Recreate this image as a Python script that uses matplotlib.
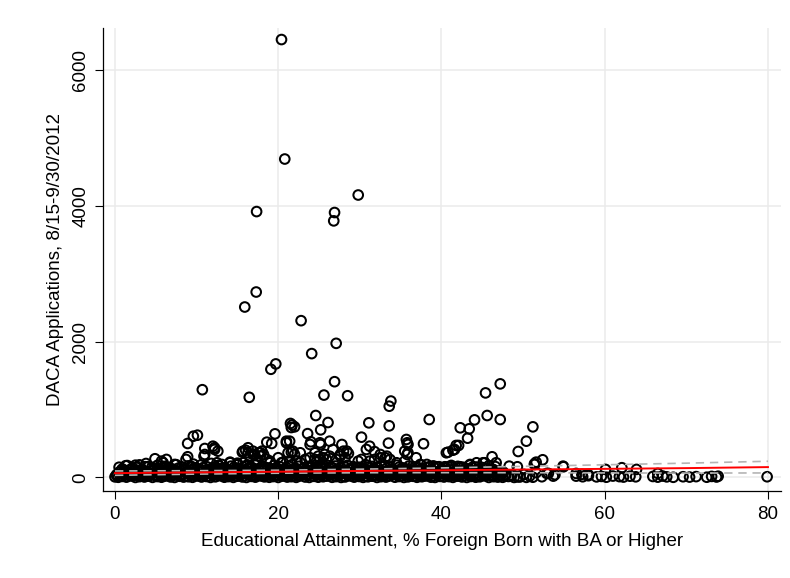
import numpy as np
import matplotlib
matplotlib.use('Agg')
import matplotlib.pyplot as plt

plt.rcParams['font.family'] = ['Liberation Sans', 'DejaVu Sans']

# Counties with large numbers of applications (x = % foreign born with BA+, y = applications)
outlier_pts = [
    (20.4, 6450), (20.8, 4690), (29.8, 4160), (17.35, 3916), (26.9, 3902),
    (26.8, 3779), (17.3, 2731), (15.9, 2510), (22.8, 2309), (27.1, 1975),
    (24.1, 1824), (19.7, 1672), (19.1, 1593), (26.9, 1410), (10.7, 1292),
    (16.45, 1180), (25.6, 1213), (28.5, 1203), (33.8, 1125), (33.6, 1049),
    (47.2, 1378), (45.4, 1245), (45.6, 912), (47.2, 853), (44.05, 848),
]

# Mid-range counties (roughly 300 - 1000 applications)
mid_pts = [
    (42.3, 731), (43.4, 716), (43.2, 578), (42.1, 471), (41.6, 412),
    (40.8, 372), (51.2, 745), (50.4, 534), (49.4, 382), (38.5, 853),
    (24.6, 912), (26.1, 809), (25.2, 701), (23.6, 645), (24.0, 525),
    (26.3, 534), (25.2, 485), (27.8, 485), (28.0, 387), (31.1, 804),
    (30.2, 593), (31.2, 460), (31.8, 380), (33.6, 760), (33.5, 505),
    (21.7, 772), (21.5, 795), (22.0, 745), (21.6, 735), (21.8, 387),
    (22.0, 338), (21.4, 534), (19.6, 642), (18.6, 519), (19.2, 500),
    (21.0, 534), (21.6, 372), (8.9, 500), (9.6, 607), (10.1, 622),
    (11.0, 426), (12.2, 437), (12.6, 387), (12.0, 460), (15.6, 372),
    (16.3, 437), (16.0, 401), (16.9, 387), (18.2, 338), (17.1, 338),
    (17.8, 363), (35.7, 559), (35.9, 485), (35.9, 363), (35.8, 510),
    (35.5, 387), (35.8, 338), (37.8, 496), (40.6, 363), (41.4, 401),
    (41.8, 471), (26.7, 412), (27.6, 338), (28.4, 387), (30.8, 412),
    (32.5, 338), (33.3, 313), (11.0, 338), (12.2, 412), (15.7, 387),
    (16.3, 363), (16.9, 338), (17.6, 363), (18.0, 387), (16.5, 313),
    (21.0, 510), (21.2, 363), (22.7, 363), (23.9, 485), (24.5, 363),
    (25.1, 510), (25.7, 338), (24.9, 313),
]

# Low counties (roughly 150 - 320 applications)
low_pts = [
    (4.9, 275), (5.7, 240), (6.3, 265), (5.9, 216), (7.3, 191), (8.7, 265),
    (8.9, 304), (11.8, 206), (13.1, 191), (14.1, 225), (17.4, 265), (18.6, 265),
    (20.0, 290), (19.0, 240), (20.4, 216), (10.9, 313), (17.8, 313), (21.4, 240),
    (22.3, 240), (23.3, 265), (23.9, 290), (24.5, 265), (25.1, 265), (25.5, 290),
    (26.3, 313), (27.1, 265), (27.6, 313), (28.2, 290), (28.6, 353), (29.8, 240),
    (30.2, 265), (31.2, 240), (31.8, 265), (32.5, 290), (33.1, 290), (33.7, 265),
    (34.5, 216), (35.5, 240), (37.4, 191), (38.2, 191), (39.4, 157), (40.4, 157),
    (41.2, 157), (42.3, 157), (43.5, 191), (44.3, 216), (45.1, 216), (36.9, 290),
    (46.2, 304), (45.3, 216), (46.7, 216), (48.3, 166), (49.3, 157), (51.4, 201),
    (51.6, 225), (52.4, 260), (54.9, 166), (2.5, 180), (3.8, 205), (1.5, 175),
    (12.7, 178), (15.0, 210), (16.2, 185), (9.6, 196), (12.5, 216), (14.1, 216),
    (15.7, 216), (17.4, 216), (19.0, 216), (20.6, 225), (22.7, 216), (24.7, 240),
    (25.9, 265),
]

# Dense band of counties with few applications
band_1 = [
    (0.0, 8), (0.4, 2), (0.9, 15), (1.4, 4), (1.9, 22), (2.5, 0), (3.0, 11), (3.6, 6), (4.1, 19), (4.6, 1),
    (5.2, 13), (5.7, 3), (6.3, 25), (6.8, 7), (7.3, 0), (7.9, 17), (8.4, 5), (9.0, 10), (9.5, 2), (10.1, 21),
    (10.6, 6), (11.2, 14), (11.7, 0), (12.3, 9), (12.8, 26), (13.4, 3), (13.9, 12), (14.5, 1), (15.0, 18), (15.6, 7),
    (16.1, 0), (16.7, 15), (17.2, 4), (17.8, 23), (18.3, 8), (18.9, 2), (19.4, 13), (20.0, 0), (20.5, 19), (21.1, 5),
    (21.6, 11), (22.2, 1), (22.7, 24), (23.3, 6), (23.8, 0), (24.4, 16), (24.9, 3), (25.5, 10), (26.0, 20), (26.6, 2),
    (27.1, 12), (27.7, 0), (28.2, 7), (28.8, 22), (29.3, 4), (29.9, 14), (30.4, 1), (31.0, 9), (31.5, 18), (32.1, 0),
    (32.6, 11), (33.2, 5), (33.7, 25), (34.3, 3), (34.8, 13), (35.4, 0), (35.9, 8), (36.5, 17), (37.0, 2), (37.6, 10),
    (38.1, 21), (38.7, 4), (39.2, 0), (39.8, 15), (40.3, 6), (40.9, 12), (41.4, 1), (42.0, 19), (42.5, 7), (43.1, 0),
    (43.6, 14), (44.2, 3), (44.7, 9), (45.3, 23), (45.8, 0), (46.4, 11), (46.9, 5), (47.5, 2), (48.2, 14), (48.9, 0),
    (49.6, 6), (50.4, 1), (51.2, 3),
]
band_2 = [
    (0.2, 42), (0.7, 55), (1.2, 38), (1.7, 61), (2.2, 47), (2.8, 36), (3.3, 58), (3.9, 44), (4.4, 52), (4.9, 39),
    (5.5, 63), (6.0, 41), (6.6, 50), (7.1, 37), (7.7, 57), (8.2, 45), (8.8, 60), (9.3, 40), (9.9, 53), (10.4, 36),
    (11.0, 48), (11.5, 62), (12.1, 43), (12.6, 55), (13.2, 38), (13.7, 59), (14.3, 46), (14.8, 51), (15.4, 40), (15.9, 64),
    (16.5, 44), (17.0, 37), (17.6, 56), (18.1, 49), (18.7, 41), (19.2, 61), (19.8, 39), (20.3, 54), (20.9, 46), (21.4, 36),
    (22.0, 58), (22.5, 43), (23.1, 52), (23.6, 40), (24.2, 63), (24.7, 47), (25.3, 38), (25.8, 57), (26.4, 45), (26.9, 50),
    (27.5, 37), (28.0, 60), (28.6, 42), (29.1, 55), (29.7, 39), (30.2, 48), (30.8, 62), (31.3, 44), (31.9, 36), (32.4, 53),
    (33.0, 41), (33.5, 59), (34.1, 46), (34.6, 38), (35.2, 56), (35.7, 43), (36.3, 50), (36.8, 61), (37.4, 40), (37.9, 47),
    (38.5, 37), (39.0, 54), (39.6, 44), (40.1, 58), (40.7, 39), (41.2, 51), (41.8, 45), (42.3, 36), (42.9, 60), (43.4, 42),
    (44.0, 49), (44.5, 38), (45.1, 55), (45.6, 43), (46.2, 40), (46.7, 52), (47.3, 37), (47.9, 45),
]
band_3 = [
    (0.5, 78), (1.1, 92), (1.7, 72), (2.4, 101), (3.0, 84), (3.6, 75), (4.3, 96), (4.9, 81), (5.5, 70), (6.2, 99),
    (6.8, 87), (7.4, 74), (8.1, 93), (8.7, 80), (9.3, 103), (10.0, 71), (10.6, 89), (11.2, 77), (11.9, 98), (12.5, 83),
    (13.1, 73), (13.8, 95), (14.4, 86), (15.0, 70), (15.7, 100), (16.3, 79), (16.9, 91), (17.6, 76), (18.2, 104), (18.8, 82),
    (19.5, 72), (20.1, 94), (20.7, 85), (21.4, 78), (22.0, 102), (22.6, 71), (23.3, 88), (23.9, 97), (24.5, 75), (25.2, 83),
    (25.8, 92), (26.4, 70), (27.1, 99), (27.7, 80), (28.3, 87), (29.0, 74), (29.6, 96), (30.2, 81), (30.9, 73), (31.5, 101),
    (32.1, 85), (32.8, 77), (33.4, 94), (34.0, 70), (34.7, 90), (35.3, 79), (35.9, 103), (36.6, 84), (37.2, 72), (37.8, 97),
    (38.5, 76), (39.1, 89), (39.7, 71), (40.4, 99), (41.0, 82), (41.6, 74), (42.3, 93), (42.9, 78), (43.5, 86), (44.2, 70),
    (44.8, 95), (45.4, 80), (46.1, 73), (46.8, 88), (47.6, 76),
]
band_4 = [
    (0.9, 125), (1.8, 112), (2.6, 148), (3.3, 118), (4.1, 160), (4.8, 131), (5.6, 114), (6.3, 152), (7.1, 122), (7.8, 139),
    (8.6, 110), (9.3, 165), (10.1, 127), (10.8, 144), (11.6, 116), (12.3, 158), (13.1, 133), (13.8, 111), (14.6, 149), (15.3, 124),
    (16.1, 167), (16.8, 137), (17.6, 115), (18.3, 155), (19.1, 129), (19.8, 142), (20.6, 113), (21.3, 162), (22.1, 135), (22.8, 120),
    (23.6, 150), (24.3, 117), (25.1, 168), (25.8, 131), (26.6, 145), (27.3, 112), (28.1, 159), (28.8, 126), (29.6, 140), (30.3, 114),
    (31.1, 154), (31.8, 122), (32.6, 166), (33.3, 136), (34.1, 118), (34.8, 151), (35.6, 128), (36.3, 110), (37.1, 147), (37.8, 123),
    (38.6, 161), (39.3, 132), (40.1, 115), (40.8, 156), (41.6, 127), (42.3, 143), (43.1, 112), (43.8, 150), (44.6, 121), (45.4, 138),
    (46.3, 118),
]
band_5 = [
    (0.2, 28), (0.65, 19), (1.15, 41), (1.65, 33), (2.2, 24), (2.75, 46), (3.3, 30), (3.85, 21), (4.35, 38), (4.9, 27),
    (5.45, 44), (6.0, 18), (6.55, 35), (7.05, 25), (7.6, 42), (8.15, 31), (8.7, 20), (9.25, 47), (9.8, 29), (10.35, 36),
    (10.9, 28), (11.45, 19), (12.0, 41), (12.55, 33), (13.1, 24), (13.65, 46), (14.2, 30), (14.75, 21), (15.3, 38), (15.85, 27),
    (16.4, 44), (16.95, 18), (17.5, 35), (18.05, 25), (18.6, 42), (19.15, 31), (19.7, 20), (20.25, 47), (20.8, 29), (21.35, 36),
    (21.9, 28), (22.45, 19), (23.0, 41), (23.55, 33), (24.1, 24), (24.65, 46), (25.2, 30), (25.75, 21), (26.3, 38), (26.85, 27),
    (27.4, 44), (27.95, 18), (28.5, 35), (29.05, 25), (29.6, 42), (30.15, 31), (30.7, 20), (31.25, 47), (31.8, 29), (32.35, 36),
    (32.9, 28), (33.45, 19), (34.0, 41), (34.55, 33), (35.1, 24), (35.65, 46), (36.2, 30), (36.75, 21), (37.3, 38), (37.85, 27),
    (38.4, 44), (38.95, 18), (39.5, 35), (40.05, 25), (40.6, 42), (41.15, 31), (41.7, 20), (42.25, 47), (42.8, 29), (43.35, 36),
    (43.9, 28), (44.45, 19), (45.0, 41), (45.55, 33), (46.1, 24), (46.65, 46), (47.2, 30), (47.8, 21),
]
band_6 = [
    (0.8, 108), (1.4, 86), (2.0, 121), (2.7, 95), (3.3, 114), (3.95, 82), (4.6, 102), (5.2, 125), (5.85, 90), (6.5, 117),
    (7.1, 99), (7.75, 84), (8.4, 111), (9.0, 93), (9.65, 120), (10.3, 88), (10.9, 105), (11.55, 97), (12.2, 118), (12.8, 83),
    (13.45, 108), (14.1, 86), (14.7, 121), (15.35, 95), (16.0, 114), (16.6, 82), (17.25, 102), (17.9, 125), (18.5, 90), (19.15, 117),
    (19.8, 99), (20.4, 84), (21.05, 111), (21.7, 93), (22.3, 120), (22.95, 88), (23.6, 105), (24.2, 97), (24.85, 118), (25.5, 83),
    (26.1, 108), (26.75, 86), (27.4, 121), (28.0, 95), (28.65, 114), (29.3, 82), (29.9, 102), (30.55, 125), (31.2, 90), (31.8, 117),
    (32.45, 99), (33.1, 84), (33.7, 111), (34.35, 93), (35.0, 120), (35.6, 88), (36.25, 105), (36.9, 97), (37.5, 118), (38.15, 83),
    (38.8, 108), (39.4, 86), (40.05, 121), (40.7, 95), (41.3, 114), (41.95, 82), (42.6, 102), (43.2, 125), (43.85, 90), (44.5, 117),
    (45.1, 99), (45.75, 84), (46.4, 111), (47.1, 93),
]
band_7 = [
    (0.5, 150), (1.3, 172), (2.2, 141), (3.0, 185), (3.7, 158), (4.5, 146), (5.2, 178), (6.0, 163), (6.7, 140), (7.5, 188),
    (8.2, 155), (9.0, 170), (9.7, 143), (10.5, 182), (11.2, 160), (12.0, 148), (12.7, 175), (13.5, 142), (14.2, 166), (15.0, 186),
    (15.7, 152), (16.5, 145), (17.2, 180), (18.0, 161), (18.7, 140), (19.5, 176), (20.2, 157), (21.0, 147), (21.7, 189), (22.5, 164),
    (23.2, 143), (24.0, 171), (24.7, 153), (25.5, 183), (26.2, 146), (27.0, 168), (27.7, 141), (28.5, 179), (29.2, 159), (30.0, 150),
    (30.7, 187), (31.5, 162), (32.2, 144), (33.0, 174), (33.7, 156), (34.5, 181), (35.2, 142), (36.0, 167), (36.7, 151), (37.5, 184),
    (38.2, 147), (39.0, 170), (39.7, 158), (40.5, 140), (41.2, 177), (42.0, 163), (42.7, 149), (43.5, 182), (44.2, 154), (45.0, 145),
    (45.8, 172), (46.6, 160),
]

# Counties with high attainment (right tail)
right_pts = [
    (56.5, 19), (57.3, 10), (58.0, 25), (59.0, 8), (59.6, 15), (60.2, 3), (61.0, 20), (61.8, 12),
    (62.3, 5), (63.1, 18), (63.8, 9), (65.9, 14), (66.5, 4), (67.1, 20), (67.6, 8), (68.4, 2),
    (69.6, 10), (70.4, 5), (71.2, 12), (72.5, 3), (73.1, 15), (73.7, 6), (73.9, 18), (79.9, 10),
    (60.1, 118), (62.1, 143), (63.9, 118), (66.5, 59), (52.9, 59), (53.7, 19), (53.1, 59), (53.9, 40),
    (56.5, 59), (57.2, 45), (58.0, 40), (54.95, 157), (51.4, 191), (48.6, 30), (49.3, 8), (50.1, 45),
    (50.8, 20), (51.6, 70), (52.3, 10),
]

# Linear fit and 95% CI
fit_x = [0, 10, 20, 30, 40, 50, 60, 70, 80]
fit_y = [63, 74, 84, 95, 105, 116, 126, 137, 152]
ci_upper = [95, 99, 106, 121, 140, 163, 186, 210, 238]
ci_lower = [31, 49, 62, 69, 70, 69, 66, 64, 66]

groups = [outlier_pts, mid_pts, low_pts, band_1, band_2, band_3, band_4,
          band_5, band_6, band_7, right_pts]
all_x = [p[0] for g in groups for p in g]
all_y = [p[1] for g in groups for p in g]

fig = plt.figure(figsize=(7.9, 5.78), dpi=100)
ax = fig.add_axes([103 / 790, 87 / 578, 678 / 790, 463 / 578])

ax.scatter(all_x, all_y, s=48, facecolors='none', edgecolors='black',
           linewidths=1.45, zorder=3)

ax.plot(fit_x, ci_upper, color='#b4b4b4', linestyle=(0, (5, 3.5)), linewidth=1.2, zorder=4)
ax.plot(fit_x, ci_lower, color='#b4b4b4', linestyle=(0, (5, 3.5)), linewidth=1.2, zorder=4)
ax.plot(fit_x, fit_y, color='#ff0000', linewidth=1.4, zorder=5)

ax.set_xlim(-1.47, 81.6)
ax.set_ylim(-200, 6620)
ax.set_xticks([0, 20, 40, 60, 80])
ax.set_yticks([0, 2000, 4000, 6000])

ax.grid(True, color='#ebebeb', linewidth=1.1, zorder=0)
ax.set_axisbelow(True)
for side in ['top', 'right']:
    ax.spines[side].set_visible(False)
for side in ['left', 'bottom']:
    ax.spines[side].set_linewidth(0.9)

ax.tick_params(axis='both', direction='out', length=5.8, width=0.8, labelsize=13.5)
ax.tick_params(axis='x', pad=5)
ax.tick_params(axis='y', pad=4)
for lab in ax.get_yticklabels():
    lab.set_rotation(90)
    lab.set_va('center')

ax.set_xlabel('Educational Attainment, % Foreign Born with BA or Higher', fontsize=13.5)
ax.set_ylabel('DACA Applications, 8/15-9/30/2012', fontsize=13.5)
ax.xaxis.set_label_coords(0.5, -0.09)
ax.yaxis.set_label_coords(-0.058, 0.5)

fig.savefig('out.png', dpi=100)
